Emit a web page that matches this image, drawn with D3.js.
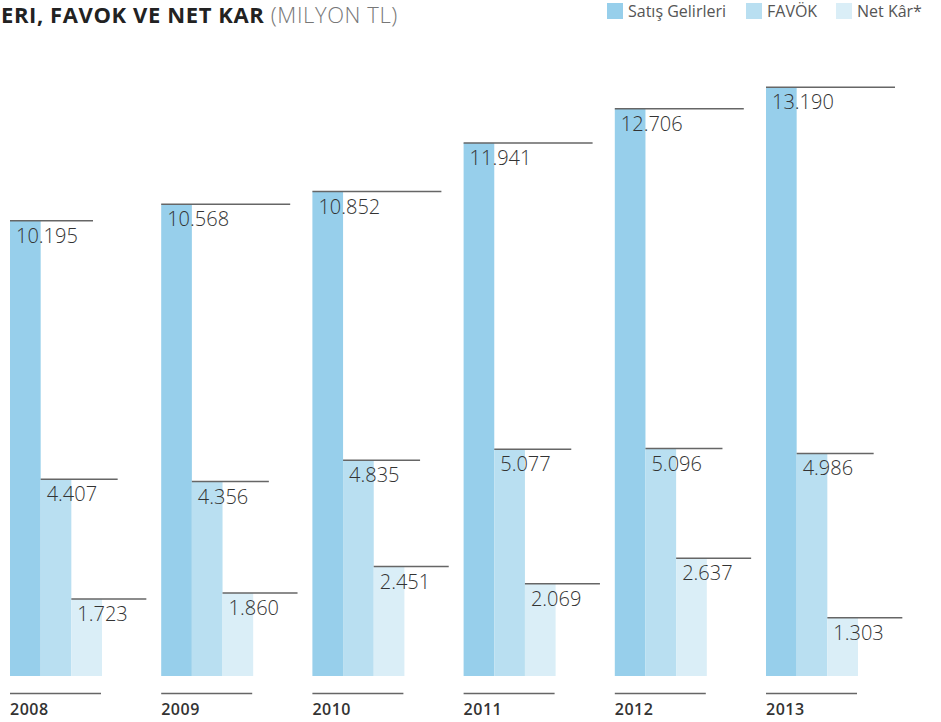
<!DOCTYPE html>
<meta charset="utf-8">
<title>Satış Gelirleri, FAVÖK ve Net Kâr</title>
<style>
	body {
		margin: 0;
		background-color: white;
	}
	svg text {
		font-family: "Open Sans", "DejaVu Sans", sans-serif;
	}
	.bar-label {
		font-size: 20px;
		font-weight: 300;
		fill: #333;
	}
	.leader {
		stroke: #666;
		stroke-width: 1.5px;
	}
	.year-label {
		font-size: 16px;
		font-weight: 600;
		letter-spacing: 0.5px;
		fill: #333;
	}
	.legend text {
		font-size: 16px;
		fill: #555;
	}
</style>
<svg width="941" height="722"></svg>
<script src="https://d3js.org/d3.v7.min.js"></script>
<script>
      // values in million TL
      var years = ["2008", "2009", "2010", "2011", "2012", "2013"];
      var seriesNames = ["Satış Gelirleri", "FAVÖK", "Net Kâr*"];
      var satis = [10195, 10568, 10852, 11941, 12706, 13190];
      var favok = [4407, 4356, 4835, 5077, 5096, 4986];
      var netKar = [1723, 1860, 2451, 2069, 2637, 1303];

      var colors = ["#97cfeb", "#b9dff1", "#daeef7"];
      var leaderLen = [129, 77, 75];

      var svg = d3.select("svg"),
          width = +svg.attr("width"),
          height = +svg.attr("height");

      var seriesValues = [satis, favok, netKar];
      var groups = years.map(function(y, i) {
        return {
          year: y,
          values: seriesNames.map(function(s, j) {
            return { series: s, idx: j, value: seriesValues[j][i] };
          })
        };
      });

      var fmt = d3.formatLocale({ decimal: ",", thousands: ".", grouping: [3], currency: ["", ""] }).format(",d");

      var x0 = d3.scaleBand()
                 .domain(years)
                 .range([10, 10 + 6 * 151.2]);

      var x1 = d3.scaleBand()
                 .domain(seriesNames)
                 .range([0, 92]);

      var y = d3.scaleLinear()
                .domain([0, 14000])
                .range([676, 51]);

      // title (cropped at the left edge in the source)
      var title = svg.append("text")
                     .attr("x", 1)
                     .attr("y", 23)
                     .style("font-size", "22px")
                     .style("letter-spacing", "0.6px");
      title.append("tspan")
           .style("font-weight", 700)
           .attr("fill", "#222")
           .text("ERI, FAVOK VE NET KAR");
      title.append("tspan")
           .style("font-weight", 300)
           .attr("fill", "#777")
           .text(" (MILYON TL)");

      // legend
      var legendX = [607, 746, 836];
      var legend = svg.append("g")
                      .attr("class", "legend")
                      .selectAll("g")
                      .data(seriesNames)
                      .enter().append("g")
                      .attr("transform", function(d, i) { return "translate(" + legendX[i] + ",3)"; });
      legend.append("rect")
            .attr("width", 16)
            .attr("height", 16)
            .attr("fill", function(d, i) { return colors[i]; });
      legend.append("text")
            .attr("x", 21)
            .attr("y", 14)
            .text(function(d) { return d; });

      var group = svg.append("g")
                     .selectAll("g")
                     .data(groups)
                     .enter().append("g")
                     .attr("transform", function(d) { return "translate(" + x0(d.year) + ",0)"; });

      group.selectAll("rect")
           .data(function(d) { return d.values; })
           .enter().append("rect")
           .attr("x", function(d) { return x1(d.series); })
           .attr("y", function(d) { return y(d.value); })
           .attr("width", x1.bandwidth())
           .attr("height", function(d) { return y(0) - y(d.value); })
           .attr("fill", function(d) { return colors[d.idx]; });

      group.selectAll("line.leader")
           .data(function(d) { return d.values.map(function(v) { return { v: v, year: d.year }; }); })
           .enter().append("line")
           .attr("class", "leader")
           .attr("x1", function(d) { return x1(d.v.series); })
           .attr("x2", function(d) {
             var len = leaderLen[d.v.idx];
             if (d.year == "2008" && d.v.idx == 0) len = 83;
             return x1(d.v.series) + len;
           })
           .attr("y1", function(d) { return y(d.v.value); })
           .attr("y2", function(d) { return y(d.v.value); });

      group.selectAll("text.bar-label")
           .data(function(d) { return d.values; })
           .enter().append("text")
           .attr("class", "bar-label")
           .attr("x", function(d) { return x1(d.series) + 6; })
           .attr("y", function(d) { return y(d.value) + 22; })
           .text(function(d) { return fmt(d.value); });

      // year axis
      group.append("line")
           .attr("class", "leader")
           .attr("x1", 0)
           .attr("x2", 91)
           .attr("y1", 693.5)
           .attr("y2", 693.5);

      group.append("text")
           .attr("class", "year-label")
           .attr("x", 0)
           .attr("y", 715)
           .text(function(d) { return d.year; });
</script>
